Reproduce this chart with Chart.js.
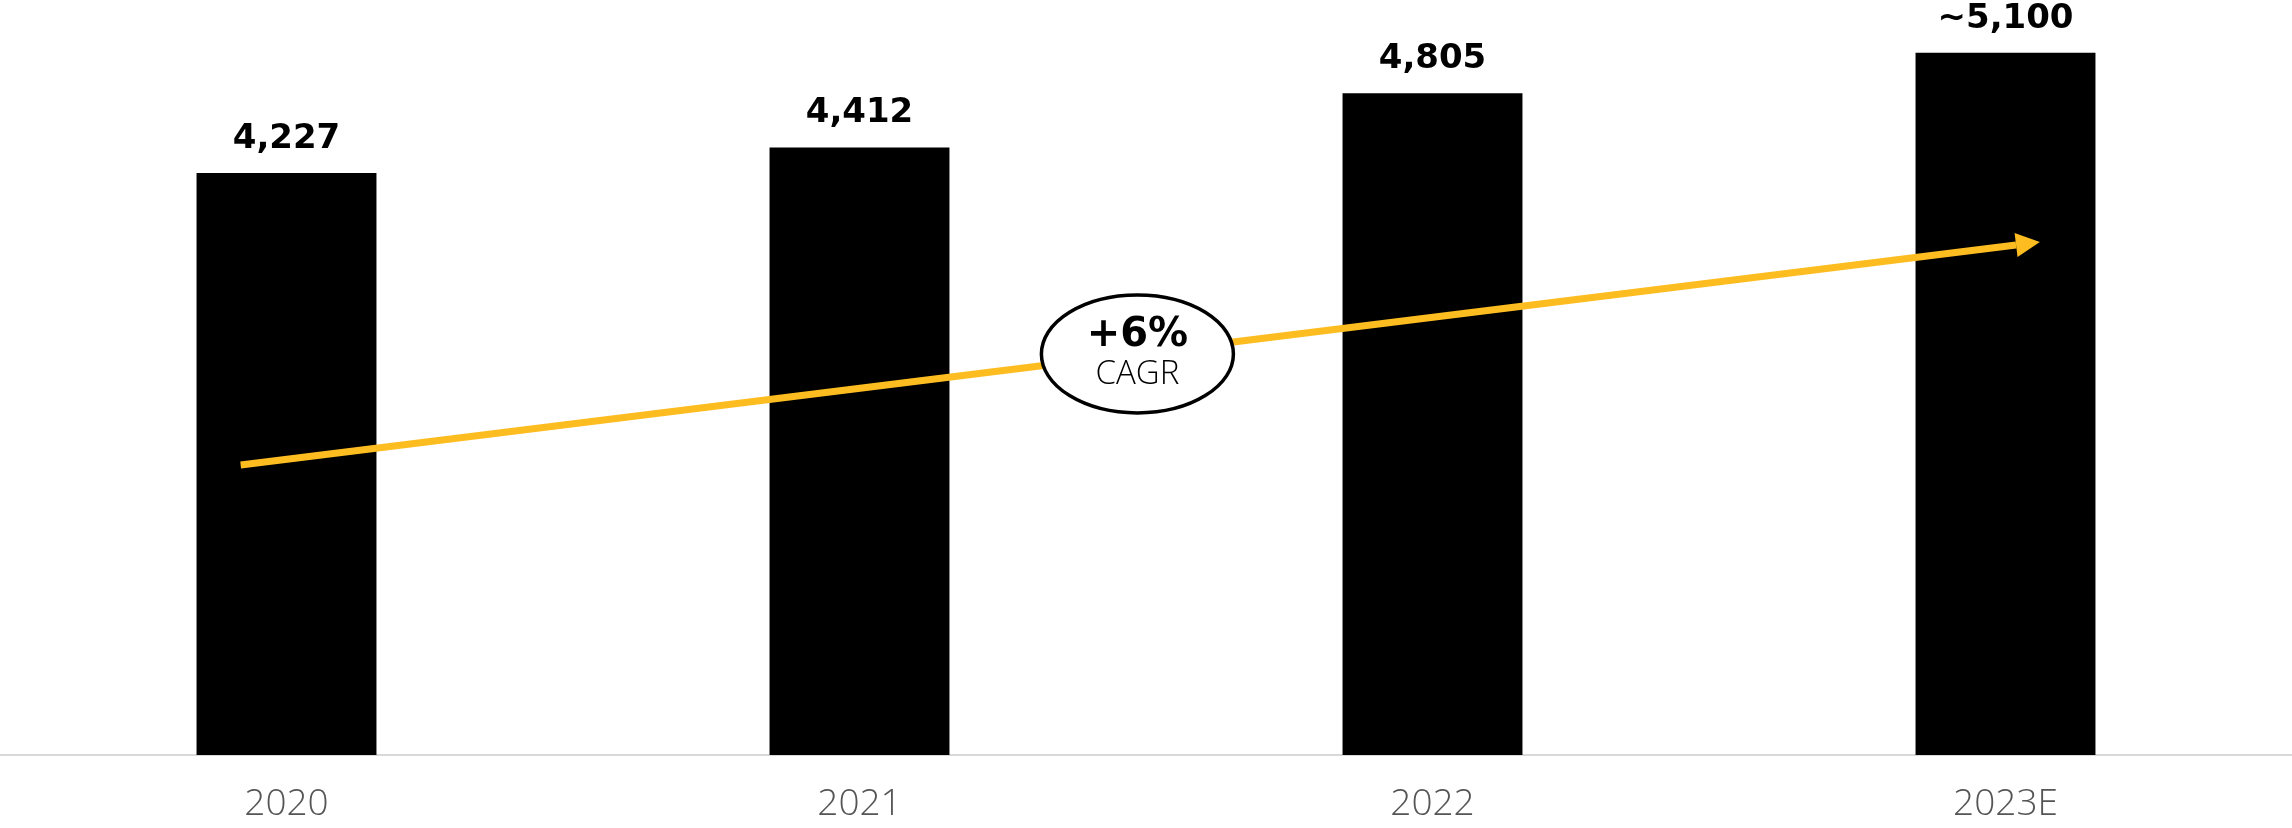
<!DOCTYPE html>
<html>
<head>
<meta charset="utf-8">
<script src="https://cdn.jsdelivr.net/npm/chart.js@4"></script>
<style>
  html, body { margin: 0; padding: 0; background: #fff; }
  #wrap { width: 2292px; height: 828px; }
</style>
</head>
<body>
<div id="wrap"><canvas id="chart" width="2292" height="828"></canvas></div>
<script>
// revenue by year, last one is an estimate
const years = ['2020', '2021', '2022', '2023E'];
const revenue = [4227, 4412, 4805, 5100];
const valueLabels = ['4,227', '4,412', '4,805', '~5,100'];

// growth arrow, in category index / value units
const trendStart = { x: -0.08, y: 2106 };
const trendEnd = { x: 3.06, y: 3725 };
const cagrText = ['+6%', 'CAGR'];

const YELLOW = '#FDBD21';

const overlay = {
    id: 'overlay',
    afterDatasetsDraw(chart) {
        const ctx = chart.ctx;
        const xs = chart.scales.x;
        const ys = chart.scales.y;

        // trend arrow
        const x1 = xs.getPixelForValue(trendStart.x), y1 = ys.getPixelForValue(trendStart.y);
        const x2 = xs.getPixelForValue(trendEnd.x), y2 = ys.getPixelForValue(trendEnd.y);
        const ang = Math.atan2(y2 - y1, x2 - x1);
        const headLen = 24, headW = 12;
        ctx.save();
        ctx.strokeStyle = YELLOW;
        ctx.fillStyle = YELLOW;
        ctx.lineWidth = 7;
        ctx.beginPath();
        ctx.moveTo(x1, y1);
        ctx.lineTo(x2 - headLen * Math.cos(ang), y2 - headLen * Math.sin(ang));
        ctx.stroke();
        ctx.beginPath();
        ctx.moveTo(x2, y2);
        ctx.lineTo(x2 - headLen * Math.cos(ang) + headW * Math.sin(ang), y2 - headLen * Math.sin(ang) - headW * Math.cos(ang));
        ctx.lineTo(x2 - headLen * Math.cos(ang) - headW * Math.sin(ang), y2 - headLen * Math.sin(ang) + headW * Math.cos(ang));
        ctx.closePath();
        ctx.fill();

        // CAGR bubble sits on the middle of the arrow
        const cx = xs.getPixelForValue(1.485);
        const cy = y1 + (cx - x1) / (x2 - x1) * (y2 - y1);
        ctx.beginPath();
        ctx.ellipse(cx, cy, 96, 59, 0, 0, Math.PI * 2);
        ctx.fillStyle = '#fff';
        ctx.fill();
        ctx.lineWidth = 3.5;
        ctx.strokeStyle = '#000';
        ctx.stroke();
        ctx.fillStyle = '#000';
        ctx.textAlign = 'center';
        ctx.textBaseline = 'middle';
        ctx.font = 'bold 40px "DejaVu Sans"';
        ctx.fillText(cagrText[0], cx, cy - 18);
        ctx.font = '300 33px "Open Sans"';
        ctx.fillText(cagrText[1], cx, cy + 21);

        // value labels over the bars
        const meta = chart.getDatasetMeta(0);
        ctx.font = 'bold 34px "DejaVu Sans"';
        ctx.textBaseline = 'bottom';
        meta.data.forEach((bar, i) => {
            ctx.fillText(valueLabels[i], bar.x, bar.y - 17);
        });
        ctx.restore();
    }
};

new Chart(document.getElementById('chart').getContext('2d'), {
    type: 'bar',
    data: {
        labels: years,
        datasets: [{
            data: revenue,
            backgroundColor: '#000',
            barPercentage: 0.314,
            categoryPercentage: 1
        }]
    },
    options: {
        responsive: false,
        animation: false,
        layout: { padding: 0 },
        plugins: { legend: { display: false }, tooltip: { enabled: false } },
        scales: {
            x: {
                grid: { display: false, drawTicks: false },
                border: { display: true, color: '#d9d9d9', width: 2 },
                ticks: {
                    color: '#555',
                    padding: 27,
                    font: { family: '"Open Sans"', size: 37, weight: '300' }
                },
                afterFit(scale) { scale.height = 73; }
            },
            y: {
                display: false,
                min: 0,
                max: 5483
            }
        }
    },
    plugins: [overlay]
});
</script>
</body>
</html>
